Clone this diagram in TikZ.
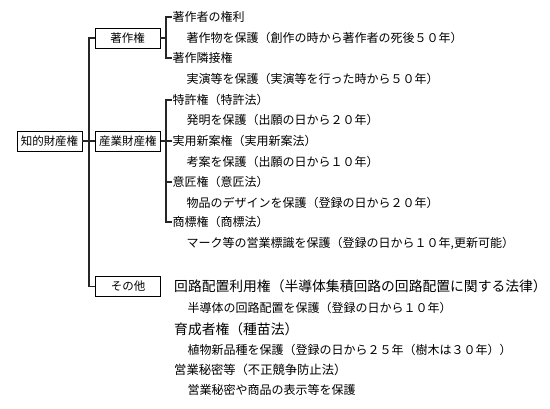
\documentclass[tikz,border=0pt]{standalone}
\usepackage{fontspec}
\setmainfont{Noto Sans CJK JP}
\begin{document}
\begin{tikzpicture}[x=1pt,y=-1pt,
  conn/.style={line width=1.3pt,color=black!85},
  cat/.style={draw,line width=0.9pt,minimum width=65pt,minimum height=20pt,inner sep=0pt,font=\fontsize{11.5}{12}\selectfont},
  item/.style={anchor=west,inner sep=0.5pt,font=\fontsize{12}{12}\selectfont},
  bigitem/.style={anchor=west,inner sep=0pt,font=\fontsize{13.8}{14}\selectfont},
  miditem/.style={anchor=west,inner sep=0pt,font=\fontsize{12.3}{13}\selectfont}]
\useasboundingbox (0,0) rectangle (550,408);
% category boxes
\node[cat] (chiteki) at (49.5,141) {知的財産権};
\node[cat] (chosaku) at (127.5,38) {著作権};
\node[cat] (sangyo) at (128,141) {産業財産権};
\node[cat] (sonota) at (128,286.5) {その他};
% copyright items
\node[item] (l1) at (172,17) {著作者の権利};
\node[item] (d1) at (186,38) {著作物を保護（創作の時から著作者の死後５０年）};
\node[item] (l2) at (172,58) {著作隣接権};
\node[item] (d2) at (186,79) {実演等を保護（実演等を行った時から５０年）};
% industrial property items
\node[item] (l3) at (172,100) {特許権（特許法）};
\node[item] (d3) at (186,120) {発明を保護（出願の日から２０年）};
\node[item] (l4) at (172,141) {実用新案権（実用新案法）};
\node[item] (d4) at (186,162) {考案を保護（出願の日から１０年）};
\node[item] (l5) at (172,182) {意匠権（意匠法）};
\node[item] (d5) at (186,203) {物品のデザインを保護（登録の日から２０年）};
\node[item] (l6) at (172,222) {商標権（商標法）};
\node[item] (d6) at (186,243) {マーク等の営業標識を保護（登録の日から１０年,更新可能）};
% other items
\node[bigitem] (o1) at (174,286) {回路配置利用権（半導体集積回路の回路配置に関する法律）};
\node[item] (e1) at (187,308) {半導体の回路配置を保護（登録の日から１０年）};
\node[bigitem] (o2) at (174,329) {育成者権（種苗法）};
\node[item] (e2) at (187,350) {植物新品種を保護（登録の日から２５年（樹木は３０年））};
\node[miditem] (o3) at (174,370) {営業秘密等（不正競争防止法）};
\node[item] (e3) at (187,390) {営業秘密や商品の表示等を保護};
% trunk
\coordinate (t) at (89,141);
\draw[conn] (chosaku.west) -| (t) |- (sonota.west);
\draw[conn] (chiteki.east) -- (sangyo.west);
% copyright bracket
\coordinate (b1) at (166,38);
\draw[conn] (chosaku.east) -- (b1);
\draw[conn] (l1.west) -| (b1) |- (l2.west);
% industrial bracket
\coordinate (b2) at (166,141);
\draw[conn] (sangyo.east) -- (l4.west);
\draw[conn] (l3.west) -| (b2) |- (l6.west);
\draw[conn] (l5.west) -- (l5.west -| b2);
\end{tikzpicture}
\end{document}
